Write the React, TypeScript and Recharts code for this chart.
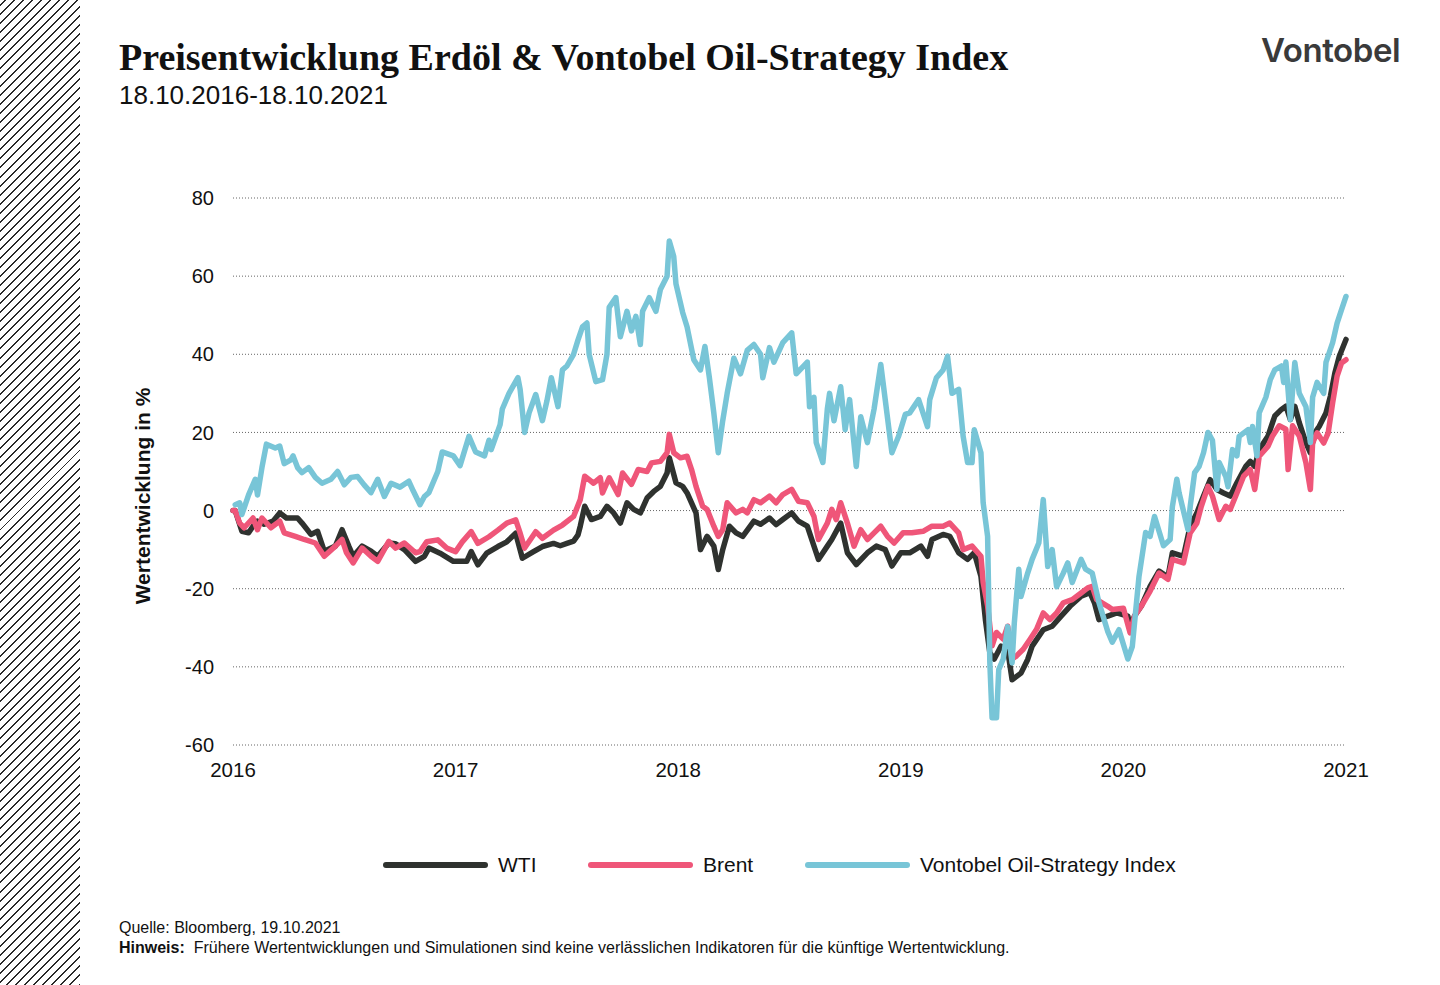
import { LineChart, Line, XAxis, YAxis, CartesianGrid } from "recharts";

// x = years since start of axis (0 = 2016, 5 = 2021), y = performance in %
const wti: [number, number][] = [
  [0.0, 0], [0.01, 0], [0.04, -5.3], [0.07, -5.7], [0.09, -4], [0.11, -2.7], [0.14, -3.5],
  [0.18, -2.7], [0.21, -0.6], [0.24, -1.9], [0.29, -1.9], [0.31, -3.2], [0.35, -6.1],
  [0.38, -5.3], [0.41, -10.4], [0.46, -9.1], [0.49, -4.9], [0.52, -9.1], [0.54, -11.7],
  [0.58, -9.1], [0.62, -10.4], [0.65, -11.7], [0.7, -8.3], [0.73, -8.5], [0.77, -10],
  [0.82, -13], [0.86, -11.7], [0.88, -9.6], [0.93, -10.9], [0.99, -13], [1.05, -13],
  [1.07, -10.5], [1.1, -13.9], [1.14, -10.9], [1.19, -9.2], [1.23, -8], [1.27, -5.8],
  [1.3, -12.2], [1.35, -10.5], [1.39, -9.2], [1.44, -8.4], [1.47, -9], [1.5, -8.4],
  [1.53, -7.8], [1.55, -6.2], [1.56, -4], [1.58, 1.1], [1.61, -2.3], [1.65, -1.5],
  [1.68, 1.1], [1.71, -0.6], [1.74, -3.2], [1.77, 2], [1.8, 0.3], [1.83, -0.6],
  [1.86, 3.2], [1.89, 4.9], [1.92, 6.2], [1.95, 9.6], [1.96, 13.5], [1.99, 7.1],
  [2.02, 6.2], [2.04, 4.5], [2.08, -0.6], [2.1, -10], [2.13, -6.6], [2.16, -9.1],
  [2.18, -15.1], [2.2, -10], [2.23, -4], [2.26, -5.7], [2.29, -6.6], [2.34, -2.7],
  [2.37, -3.5], [2.41, -1.9], [2.44, -3.6], [2.47, -2.3], [2.51, -0.6], [2.54, -2.7],
  [2.58, -4], [2.61, -9.1], [2.63, -12.5], [2.67, -9.1], [2.69, -7.4], [2.73, -3.2],
  [2.76, -10.8], [2.8, -13.8], [2.85, -10.8], [2.89, -9.1], [2.93, -10], [2.96, -14.2],
  [3.0, -10.8], [3.04, -10.8], [3.09, -9.1], [3.12, -11.7], [3.14, -7.4], [3.19, -6.1],
  [3.22, -6.6], [3.26, -10.8], [3.3, -12.5], [3.33, -10.8], [3.36, -16.8], [3.38, -27.9],
  [3.4, -36.4], [3.42, -38], [3.45, -34.7], [3.48, -35.6], [3.5, -43.3], [3.54, -41.6],
  [3.57, -38.1], [3.59, -34.7], [3.64, -30.5], [3.68, -29.6], [3.72, -27], [3.76, -24.5],
  [3.81, -21.9], [3.85, -21], [3.87, -23.6], [3.89, -27.9], [3.93, -27], [3.97, -26.2],
  [4.02, -27], [4.03, -29.6], [4.05, -27], [4.08, -24.5], [4.12, -19.4], [4.16, -15.5],
  [4.2, -17], [4.22, -10.8], [4.27, -11.7], [4.3, -4], [4.33, -0.6], [4.36, 3.7],
  [4.39, 7.9], [4.42, 5.4], [4.45, 4.5], [4.48, 3.7], [4.51, 7.1], [4.55, 11.3],
  [4.57, 12.6], [4.59, 11.3], [4.61, 15.6], [4.65, 19.1], [4.68, 24.2], [4.71, 25.9],
  [4.73, 26.7], [4.75, 23.3], [4.77, 26.7], [4.79, 22.5], [4.82, 17.3], [4.84, 14.8],
  [4.86, 19.9], [4.88, 21.6], [4.91, 25], [4.93, 29.3], [4.95, 35.2], [4.97, 39.5],
  [5.0, 43.8],
];

const brent: [number, number][] = [
  [0.0, 0], [0.01, 0], [0.03, -3.2], [0.05, -4.4], [0.09, -1.9], [0.11, -4.9], [0.13, -1.9],
  [0.17, -4.4], [0.21, -2.7], [0.23, -5.7], [0.28, -6.6], [0.32, -7.4], [0.37, -8.3],
  [0.41, -11.7], [0.46, -9.1], [0.49, -7.4], [0.51, -10.8], [0.54, -13.4], [0.58, -9.6],
  [0.62, -11.7], [0.65, -13], [0.7, -7.9], [0.73, -9.6], [0.77, -8.3], [0.82, -10.8],
  [0.84, -10.5], [0.87, -8], [0.92, -7.5], [0.96, -9.6], [1.0, -10.5], [1.03, -8],
  [1.07, -5.4], [1.1, -8.4], [1.15, -6.7], [1.19, -5], [1.23, -3.2], [1.27, -2.4],
  [1.29, -5.8], [1.31, -9.6], [1.36, -5.4], [1.39, -7.1], [1.44, -5], [1.48, -3.7],
  [1.53, -1.5], [1.56, 2.8], [1.58, 8.8], [1.62, 7], [1.65, 8.4], [1.66, 4.5],
  [1.69, 8.4], [1.73, 4.1], [1.75, 9.6], [1.79, 6.7], [1.82, 10.5], [1.86, 10],
  [1.88, 12.2], [1.92, 12.6], [1.95, 14.8], [1.96, 19.5], [1.98, 14.8], [2.01, 13.5],
  [2.04, 13.9], [2.06, 10.5], [2.08, 6.2], [2.11, 1.1], [2.13, 0.3], [2.16, -4],
  [2.18, -6.6], [2.2, -4.9], [2.22, 2], [2.26, -0.6], [2.29, 0.3], [2.31, -0.6],
  [2.34, 2.8], [2.37, 2], [2.41, 3.7], [2.44, 2], [2.47, 4.1], [2.51, 5.4], [2.54, 2.4],
  [2.58, 2], [2.61, -1.5], [2.63, -7.4], [2.67, -3.2], [2.69, 0.3], [2.71, -2.3],
  [2.73, 2], [2.76, -3.2], [2.79, -9.1], [2.82, -4.9], [2.85, -7.4], [2.88, -5.7],
  [2.91, -4], [2.94, -6.6], [2.97, -8.3], [3.01, -5.7], [3.05, -5.7], [3.1, -5.3],
  [3.14, -4], [3.19, -4], [3.22, -3.2], [3.26, -5.7], [3.28, -10], [3.32, -9.1],
  [3.36, -11.7], [3.37, -18.4], [3.39, -24.4], [3.41, -34.6], [3.43, -31.2], [3.46, -32.9],
  [3.48, -29.6], [3.5, -38], [3.52, -37.2], [3.55, -35.5], [3.58, -33], [3.61, -30.4],
  [3.64, -26.2], [3.67, -27.9], [3.7, -26.2], [3.73, -23.6], [3.77, -22.8], [3.81, -21.1],
  [3.84, -19.8], [3.86, -19.4], [3.88, -22.8], [3.93, -24.5], [3.95, -25.3], [4.0, -25],
  [4.03, -31.3], [4.05, -27], [4.08, -24.5], [4.12, -20.6], [4.16, -16], [4.2, -17.6],
  [4.22, -12.5], [4.27, -13.4], [4.3, -5.7], [4.33, -3.2], [4.35, 1.1], [4.38, 6.2],
  [4.4, 3.7], [4.43, -2.3], [4.46, 1.1], [4.48, 0.3], [4.51, 4.5], [4.54, 8.8],
  [4.57, 10.5], [4.59, 5.4], [4.61, 13.9], [4.65, 16.5], [4.67, 19.1], [4.7, 21.7],
  [4.73, 20.8], [4.74, 10.5], [4.76, 21.7], [4.79, 19.1], [4.82, 12.2], [4.84, 5.4],
  [4.85, 17.3], [4.87, 19.9], [4.9, 17.3], [4.92, 19.9], [4.94, 27.6], [4.96, 34.4],
  [4.98, 37.8], [5.0, 38.6],
];

const vontobel: [number, number][] = [
  [0.01, 1.5], [0.03, 2], [0.04, -1], [0.07, 4], [0.1, 8], [0.11, 4], [0.13, 11],
  [0.15, 17], [0.19, 16], [0.21, 16.5], [0.23, 12], [0.26, 13], [0.27, 14], [0.29, 11],
  [0.31, 9.7], [0.34, 11], [0.37, 8.5], [0.4, 7], [0.44, 8], [0.47, 10], [0.5, 6.6],
  [0.53, 8.5], [0.56, 8.7], [0.59, 6.5], [0.62, 4.6], [0.65, 8], [0.68, 3.6], [0.71, 7],
  [0.75, 6], [0.79, 7.5], [0.81, 5], [0.84, 1.5], [0.86, 3.6], [0.88, 4.6], [0.92, 10],
  [0.94, 15], [0.99, 14], [1.02, 11.5], [1.06, 19], [1.09, 15], [1.13, 14], [1.15, 18],
  [1.16, 15.6], [1.2, 22], [1.21, 26], [1.24, 30], [1.28, 34], [1.29, 31], [1.31, 20],
  [1.33, 25], [1.36, 29.7], [1.39, 23], [1.41, 28], [1.43, 34], [1.46, 26.6], [1.48, 36],
  [1.5, 37], [1.53, 40], [1.55, 43.7], [1.57, 47], [1.59, 48], [1.6, 40], [1.63, 33],
  [1.66, 33.5], [1.68, 40], [1.69, 52], [1.72, 54.5], [1.74, 44.5], [1.77, 51], [1.79, 46],
  [1.81, 49.7], [1.83, 42.5], [1.84, 51], [1.87, 54.5], [1.9, 51], [1.92, 56.6], [1.95, 60],
  [1.96, 69], [1.98, 65], [1.99, 58], [2.02, 50.7], [2.04, 47], [2.07, 38.6], [2.1, 36],
  [2.12, 42], [2.14, 34], [2.16, 25], [2.18, 14.8], [2.2, 23], [2.22, 30], [2.25, 39],
  [2.28, 35], [2.31, 41], [2.34, 42.5], [2.37, 40], [2.38, 34], [2.41, 41.7], [2.43, 38],
  [2.47, 43], [2.51, 45.5], [2.53, 35], [2.58, 38], [2.59, 26.6], [2.61, 29], [2.62, 17.4],
  [2.65, 12.3], [2.67, 26], [2.68, 30], [2.7, 23], [2.73, 31.7], [2.75, 20.7], [2.77, 28.4],
  [2.8, 11.3], [2.82, 24], [2.85, 17.4], [2.88, 26], [2.91, 37.4], [2.93, 28.4], [2.96, 14.8],
  [2.99, 19], [3.02, 24.6], [3.04, 25], [3.08, 28.4], [3.12, 21.5], [3.13, 28.4], [3.16, 34],
  [3.19, 36], [3.21, 39.5], [3.23, 30], [3.26, 31], [3.28, 19], [3.3, 12.3], [3.32, 12.3],
  [3.33, 20.7], [3.36, 14.8], [3.37, 2], [3.39, -6.6], [3.4, -39], [3.41, -53], [3.43, -53],
  [3.44, -40.7], [3.46, -38], [3.48, -29.7], [3.5, -39], [3.51, -28.7], [3.53, -15],
  [3.54, -22], [3.57, -16], [3.59, -12.5], [3.62, -8.3], [3.64, 2.8], [3.66, -14.3],
  [3.68, -10], [3.7, -19.5], [3.73, -16], [3.75, -13.4], [3.77, -18.4], [3.81, -12.5],
  [3.83, -15], [3.86, -16], [3.89, -23.5], [3.93, -31], [3.95, -33.7], [3.98, -30.5],
  [4.02, -38], [4.04, -34.8], [4.07, -16.9], [4.1, -5.6], [4.12, -6.6], [4.14, -1.5],
  [4.18, -9], [4.21, -7.4], [4.22, 1], [4.24, 8], [4.25, 4.6], [4.29, -4.9], [4.3, 1],
  [4.32, 9.7], [4.34, 11.3], [4.36, 14.8], [4.38, 20], [4.4, 18], [4.42, 5.4], [4.43, 12.3],
  [4.46, 8.7], [4.47, 6.1], [4.49, 15.6], [4.51, 14], [4.52, 19], [4.56, 20.7], [4.57, 17.4],
  [4.58, 21.5], [4.6, 14], [4.61, 25], [4.64, 29], [4.66, 33.5], [4.68, 36], [4.71, 37],
  [4.72, 32.8], [4.73, 38], [4.75, 23.3], [4.77, 37.9], [4.79, 30], [4.82, 26.6],
  [4.84, 17.4], [4.85, 29], [4.87, 32.8], [4.9, 30], [4.91, 37.9], [4.94, 43], [4.96, 48],
  [4.98, 51.4], [5.0, 54.8],
];

const yearTicks = [0, 1, 2, 3, 4, 5];
const yearLabels = ["2016", "2017", "2018", "2019", "2020", "2021"];
const valueTicks = [-60, -40, -20, 0, 20, 40, 60, 80];

const series = [
  { name: "WTI", data: wti, color: "#2f322f" },
  { name: "Brent", data: brent, color: "#ef5679" },
  { name: "Vontobel Oil-Strategy Index", data: vontobel, color: "#78c5d7" },
];

const sans = "'Liberation Sans', Arial, sans-serif";

export default function App() {
  return (
    <div
      style={{
        position: "absolute",
        left: 0,
        top: 0,
        width: 1440,
        height: 985,
        background: "#fff",
        overflow: "hidden",
        fontFamily: sans,
        color: "#111",
      }}
    >
      {/* hatched strip on the left */}
      <div
        style={{
          position: "absolute",
          left: 0,
          top: 0,
          width: 80,
          height: 985,
          background:
            "repeating-linear-gradient(-45deg, #2a2a2a 0px, #2a2a2a 1.4px, #fff 1.4px, #fff 6.4px)",
        }}
      />

      <div
        style={{
          position: "absolute",
          left: 119,
          top: 35,
          fontFamily: "'Liberation Serif', 'Times New Roman', serif",
          fontWeight: 700,
          fontSize: 38,
          lineHeight: "44px",
          whiteSpace: "nowrap",
        }}
      >
        Preisentwicklung Erdöl &amp; Vontobel Oil-Strategy Index
      </div>
      <div style={{ position: "absolute", left: 119, top: 80, fontSize: 26, whiteSpace: "nowrap" }}>
        18.10.2016-18.10.2021
      </div>

      <div
        style={{
          position: "absolute",
          left: 1261,
          top: 30,
          fontFamily: "Inter, sans-serif",
          fontWeight: 600,
          fontSize: 33,
          lineHeight: "40px",
          color: "#3a3a3a",
          letterSpacing: -0.4,
        }}
      >
        Vontobel
      </div>

      <div
        style={{
          position: "absolute",
          left: 143,
          top: 496,
          transform: "translate(-50%, -50%) rotate(-90deg)",
          fontSize: 21,
          fontWeight: 700,
          whiteSpace: "nowrap",
        }}
      >
        Wertentwicklung in %
      </div>

      <div style={{ position: "absolute", left: 0, top: 0 }}>
        <LineChart width={1440} height={800} margin={{ top: 198, right: 94, bottom: 25, left: 173 }}>
          <CartesianGrid vertical={false} stroke="#666" strokeDasharray="1 2" />
          <XAxis
            type="number"
            dataKey="0"
            domain={[0, 5]}
            ticks={yearTicks}
            tickFormatter={(v: number) => yearLabels[yearTicks.indexOf(v)] ?? ""}
            axisLine={false}
            tickLine={false}
            tickMargin={11}
            height={30}
            tick={{ fontSize: 20.5, fill: "#111", fontFamily: sans }}
            allowDuplicatedCategory={false}
          />
          <YAxis
            type="number"
            domain={[-60, 80]}
            ticks={valueTicks}
            axisLine={false}
            tickLine={false}
            tickMargin={13}
            width={60}
            tick={{ fontSize: 20, fill: "#111", fontFamily: sans }}
          />
          {series.map((s) => (
            <Line
              key={s.name}
              data={s.data}
              dataKey="1"
              name={s.name}
              type="linear"
              stroke={s.color}
              strokeWidth={5.5}
              strokeLinejoin="round"
              strokeLinecap="round"
              dot={false}
              isAnimationActive={false}
            />
          ))}
        </LineChart>
      </div>

      {/* legend */}
      {series.map((s, i) => {
        const lefts = [383, 588, 805];
        return (
          <div
            key={s.name}
            style={{ position: "absolute", left: lefts[i], top: 852, display: "flex", alignItems: "center" }}
          >
            <div style={{ width: 105, height: 6, borderRadius: 3, background: s.color }} />
            <span style={{ marginLeft: 10, fontSize: 21, lineHeight: "26px" }}>{s.name}</span>
          </div>
        );
      })}

      <div style={{ position: "absolute", left: 119, top: 918, fontSize: 16, lineHeight: "20px" }}>
        Quelle: Bloomberg, 19.10.2021
      </div>
      <div
        style={{ position: "absolute", left: 119, top: 938, fontSize: 16, lineHeight: "20px", whiteSpace: "nowrap" }}
      >
        <b>Hinweis:</b>&nbsp;&nbsp;Frühere Wertentwicklungen und Simulationen sind keine verlässlichen Indikatoren für die
        künftige Wertentwicklung.
      </div>
    </div>
  );
}
